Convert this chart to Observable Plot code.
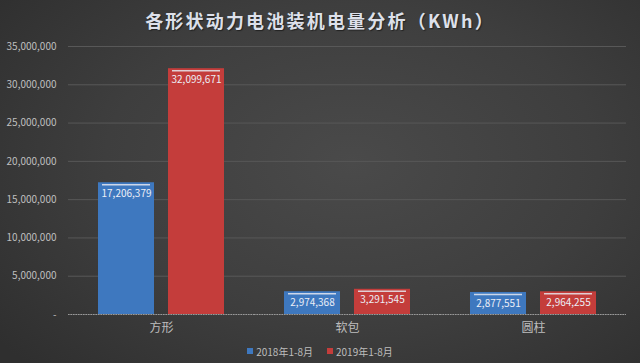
<!DOCTYPE html>
<html>
<head>
<meta charset="utf-8">
<script src="https://cdn.jsdelivr.net/npm/d3@7"></script>
<script src="https://cdn.jsdelivr.net/npm/@observablehq/plot@0.6"></script>
<style>
  html, body { margin: 0; padding: 0; }
  body {
    width: 640px; height: 363px; overflow: hidden;
    background: radial-gradient(ellipse 70% 80% at 55% 45%, #4a4a4a 0%, #3e3e3e 55%, #2f2f2f 100%);
    font-family: "Noto Sans CJK SC", "Noto Sans", sans-serif;
  }
  #title {
    height: 36px; line-height: 40px; text-align: center;
    font-size: 18px; font-weight: bold; letter-spacing: 2.2px;
    color: #dde0ea; text-shadow: 1px 1px 1px #222;
  }
  #chart svg { display: block; }
  #legend {
    display: flex; justify-content: center; align-items: center; gap: 14px;
    height: 22px; font-size: 10px; color: #bdbdbd;
  }
  .item { display: flex; align-items: center; gap: 3px; }
  .sw { width: 6px; height: 6px; display: inline-block; }
</style>
</head>
<body>
<div id="title">各形状动力电池装机电量分析（KWh）</div>
<div id="chart"></div>
<div id="legend"></div>
<script>
const categories = ["方形", "软包", "圆柱"];
const series = ["2018年1-8月", "2019年1-8月"];
const values2018 = [17206379, 2974368, 2877551];
const values2019 = [32099671, 3291545, 2964255];
const yTicks = [0, 5000000, 10000000, 15000000, 20000000, 25000000, 30000000, 35000000];
const colors = ["#3e78bf", "#c43d3b"];

const data = [];
categories.forEach((c, i) => {
  data.push({category: c, series: series[0], value: values2018[i]});
  data.push({category: c, series: series[1], value: values2019[i]});
});

const fmt = d3.format(",");

const chart = Plot.plot({
  width: 640,
  height: 304,
  marginTop: 10,
  marginBottom: 26,
  marginLeft: 67,
  marginRight: 13,
  style: {background: "transparent", fontFamily: "'Noto Sans CJK SC', 'Noto Sans', sans-serif"},
  fx: {domain: categories, padding: 0, label: null, axis: null},
  x: {domain: series, paddingInner: 0.197, paddingOuter: 0.415, axis: null},
  y: {domain: [0, 35000000], axis: null},
  color: {domain: series, range: colors},
  marks: [
    Plot.gridY(yTicks, {stroke: "#585858", strokeOpacity: 1, strokeWidth: 1}),
    Plot.axisY(yTicks, {
      tickSize: 0, tickPadding: 12, fill: "#bfbfbf", fontSize: 10, label: null,
      tickFormat: d => d === 0 ? "-" : fmt(d)
    }),
    Plot.barY(data, {fx: "category", x: "series", y: "value", fill: "series"}),
    Plot.tickY(data, {fx: "category", x: "series", y: "value", stroke: "#e6e8f0", strokeWidth: 1.4, dy: 2, insetLeft: 4, insetRight: 4, strokeOpacity: 0.85}),
    Plot.text(data, {fx: "category", x: "series", y: "value", text: d => fmt(d.value), dy: 11, fill: "#eceef6", fontSize: 10}),
    Plot.ruleY([0], {stroke: "#999", strokeWidth: 1.2, strokeDasharray: "1.5,1"}),
    Plot.axisFx({anchor: "bottom", tickSize: 0, tickPadding: 9, fontSize: 12, fill: "#bdbdbd", label: null})
  ]
});
document.getElementById("chart").appendChild(chart);

const legend = document.getElementById("legend");
series.forEach((s, i) => {
  const item = document.createElement("span");
  item.className = "item";
  const sw = document.createElement("span");
  sw.className = "sw";
  sw.style.background = colors[i];
  const t = document.createElement("span");
  t.textContent = s;
  item.appendChild(sw);
  item.appendChild(t);
  legend.appendChild(item);
});
</script>
</body>
</html>
